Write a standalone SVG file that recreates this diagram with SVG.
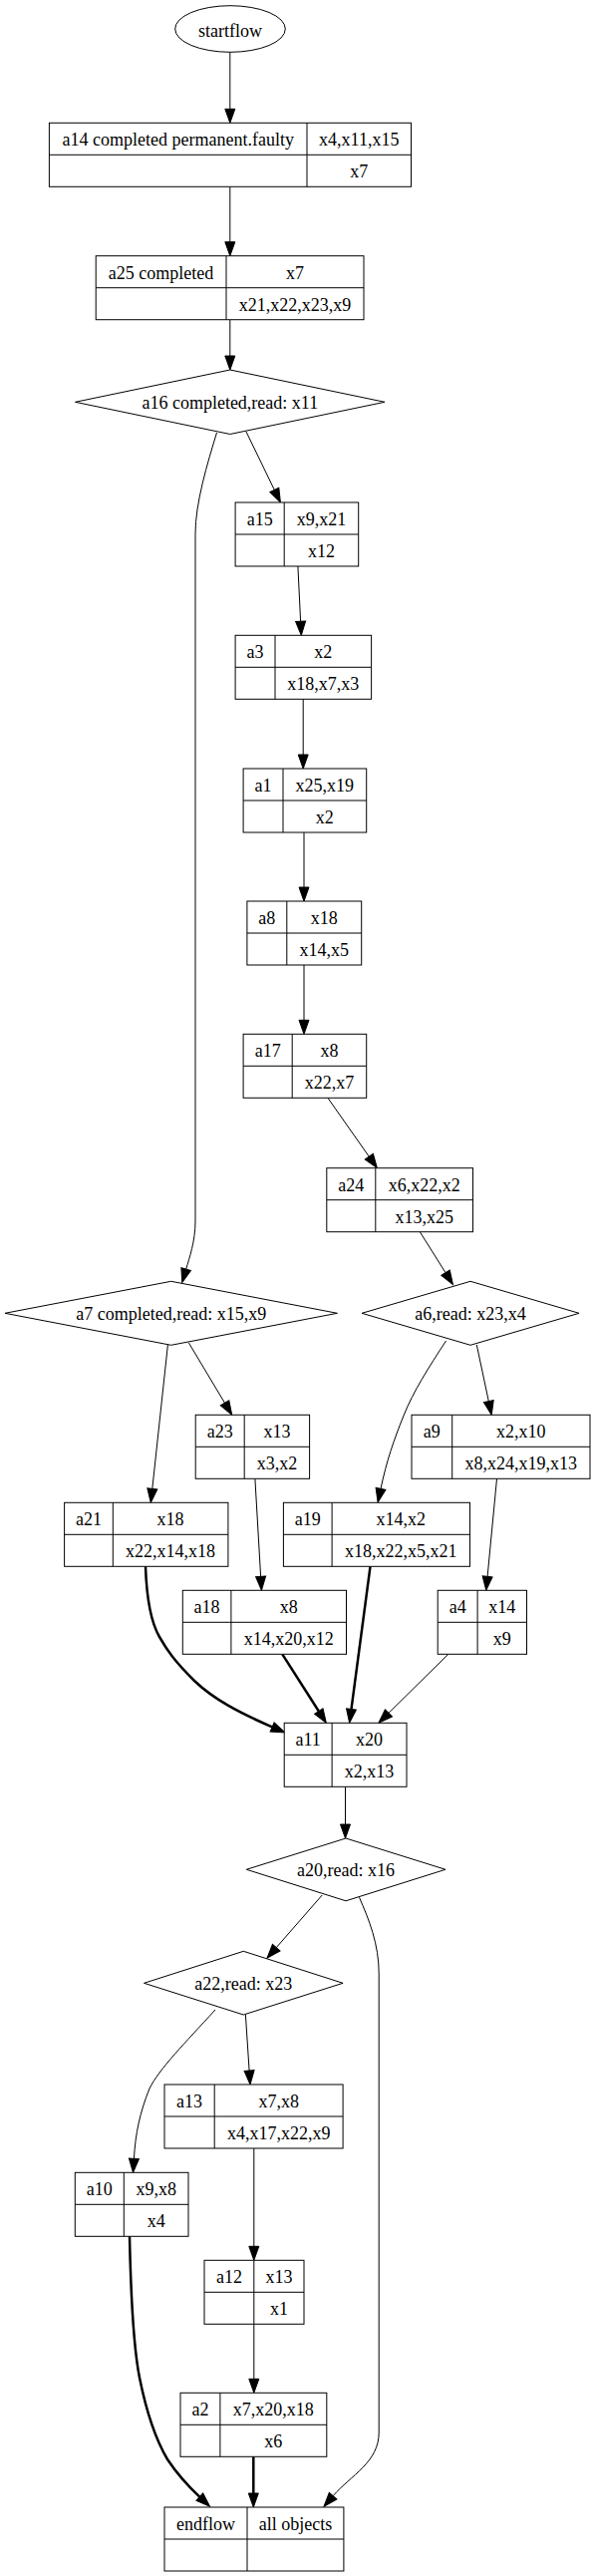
<svg xmlns="http://www.w3.org/2000/svg" width="597" height="2584" viewBox="0 0 597 2584">
<style>
.bx{fill:#fff;stroke:#000;stroke-width:1}
.ln{stroke:#000;stroke-width:1;fill:none}
.t{font-family:"Liberation Serif","Times New Roman",serif;font-size:18px;fill:#000;text-anchor:middle}
.e{fill:none;stroke:#000;stroke-width:1}
.eb{fill:none;stroke:#000;stroke-width:2.5}
</style>
<defs>
<marker id="ah" markerUnits="userSpaceOnUse" markerWidth="14" markerHeight="10" refX="0" refY="5" orient="auto" overflow="visible">
<path d="M0,0 L14,5 L0,10 z" fill="#000" stroke="#000" stroke-width="1"/>
</marker>
</defs>
<rect x="0" y="0" width="597" height="2584" fill="#fff"/>

<g id="edges">
<path class="e" marker-end="url(#ah)" d="M230.8,52.3 L230.8,109.3"/>
<path class="e" marker-end="url(#ah)" d="M230.8,187.3 L230.8,242.7"/>
<path class="e" marker-end="url(#ah)" d="M230.8,320.7 L230.8,357"/>
<path class="e" marker-end="url(#ah)" d="M247,433 L275.3,491.4"/>
<path class="e" marker-end="url(#ah)" d="M217.5,434 C208,465 196,505 196,535 L196,1225 C196,1245 190,1262 186.7,1273.1"/>
<path class="e" marker-end="url(#ah)" d="M298.9,568 L301.6,623.3"/>
<path class="e" marker-end="url(#ah)" d="M304.2,701.3 L304.2,757"/>
<path class="e" marker-end="url(#ah)" d="M305,835 L305,890"/>
<path class="e" marker-end="url(#ah)" d="M305,968 L305,1023.3"/>
<path class="e" marker-end="url(#ah)" d="M328.9,1101.3 L370.3,1160.2"/>
<path class="e" marker-end="url(#ah)" d="M421.3,1235.7 L447,1276.6"/>
<path class="e" marker-end="url(#ah)" d="M168.4,1349 L152.8,1493.4"/>
<path class="e" marker-end="url(#ah)" d="M189.4,1347 L225.5,1407.3"/>
<path class="e" marker-end="url(#ah)" d="M447.5,1345 C430,1372 415,1395 405,1420 C395,1445 388,1465 382,1493.4"/>
<path class="e" marker-end="url(#ah)" d="M478.3,1349 L490.3,1405.6"/>
<path class="e" marker-end="url(#ah)" d="M255.9,1483.3 L261.6,1581.3"/>
<path class="e" marker-end="url(#ah)" d="M498.5,1483.3 L489.1,1581.4"/>
<path class="eb" marker-end="url(#ah)" d="M146,1571.3 C147,1600 150,1625 160,1642 C168,1656 175,1666 195,1686 C215,1705 240,1718 273.1,1732.4"/>
<path class="eb" marker-end="url(#ah)" d="M283.3,1659.3 L319.8,1716.5"/>
<path class="eb" marker-end="url(#ah)" d="M371.5,1571.3 L352.5,1714.4"/>
<path class="e" marker-end="url(#ah)" d="M449.8,1659.3 L389.9,1718.4"/>
<path class="e" marker-end="url(#ah)" d="M346.5,1792.3 L346.5,1830"/>
<path class="e" marker-end="url(#ah)" d="M323.2,1901 L277.2,1953.7"/>
<path class="e" marker-end="url(#ah)" d="M360.5,1903.3 C370,1925 380.2,1950 380.2,1980 L380.2,2440 C380.2,2470 352,2483 334.1,2503.7"/>
<path class="e" marker-end="url(#ah)" d="M246.4,2021 L250.1,2077"/>
<path class="e" marker-end="url(#ah)" d="M216,2016 C185,2050 160,2075 150,2095 C140,2120 136,2140 134.4,2165.4"/>
<path class="e" marker-end="url(#ah)" d="M254.8,2155 L254.8,2253.3"/>
<path class="e" marker-end="url(#ah)" d="M254.8,2331.3 L254.8,2386.3"/>
<path class="eb" marker-end="url(#ah)" d="M254.3,2464.3 L254.3,2501"/>
<path class="eb" marker-end="url(#ah)" d="M130,2243.3 C131,2290 133,2350 140,2385 C147,2420 155,2445 168,2467 C180,2485 190,2495 200.3,2504.6"/>
</g>

<g id="startflow">
<ellipse class="bx" cx="231" cy="29" rx="55.3" ry="23.3"/>
<text class="t" x="231" y="36.5">startflow</text>
</g>

<g id="a14">
<rect class="bx" x="49.4" y="123.3" width="363.1" height="64"/>
<path class="ln" d="M308,123.3 V187.3 M49.4,155.3 H412.5"/>
<text class="t" x="178.7" y="146.3">a14 completed permanent.faulty</text>
<text class="t" x="360.25" y="146.3">x4,x11,x15</text>
<text class="t" x="360.25" y="178.3">x7</text>
</g>

<g id="a25">
<rect class="bx" x="96.2" y="256.7" width="268.8" height="64"/>
<path class="ln" d="M227,256.7 V320.7 M96.2,288.7 H365"/>
<text class="t" x="161.6" y="279.7">a25 completed</text>
<text class="t" x="296" y="279.7">x7</text>
<text class="t" x="296" y="311.7">x21,x22,x23,x9</text>
</g>

<g id="a16">
<polygon class="bx" points="230.8,371 386,403.3 230.8,435.5 75.5,403.3"/>
<text class="t" x="230.8" y="410.3">a16 completed,read: x11</text>
</g>

<g id="a15">
<rect class="bx" x="236.1" y="504" width="123.6" height="64"/>
<path class="ln" d="M285.2,504 V568 M236.1,536 H359.7"/>
<text class="t" x="260.65" y="527">a15</text>
<text class="t" x="322.45" y="527">x9,x21</text>
<text class="t" x="322.45" y="559">x12</text>
</g>

<g id="a3">
<rect class="bx" x="236.1" y="637.3" width="136.5" height="64"/>
<path class="ln" d="M276,637.3 V701.3 M236.1,669.3 H372.6"/>
<text class="t" x="256.05" y="660.3">a3</text>
<text class="t" x="324.3" y="660.3">x2</text>
<text class="t" x="324.3" y="692.3">x18,x7,x3</text>
</g>

<g id="a1">
<rect class="bx" x="244.1" y="771" width="123.6" height="64"/>
<path class="ln" d="M284,771 V835 M244.1,803 H367.7"/>
<text class="t" x="264.05" y="794">a1</text>
<text class="t" x="325.85" y="794">x25,x19</text>
<text class="t" x="325.85" y="826">x2</text>
</g>

<g id="a8">
<rect class="bx" x="247.9" y="904" width="114.8" height="64"/>
<path class="ln" d="M287.8,904 V968 M247.9,936 H362.7"/>
<text class="t" x="267.85" y="927">a8</text>
<text class="t" x="325.25" y="927">x18</text>
<text class="t" x="325.25" y="959">x14,x5</text>
</g>

<g id="a17">
<rect class="bx" x="244.1" y="1037.3" width="123.6" height="64"/>
<path class="ln" d="M293.2,1037.3 V1101.3 M244.1,1069.3 H367.7"/>
<text class="t" x="268.65" y="1060.3">a17</text>
<text class="t" x="330.45" y="1060.3">x8</text>
<text class="t" x="330.45" y="1092.3">x22,x7</text>
</g>

<g id="a24">
<rect class="bx" x="327.8" y="1171.7" width="146.7" height="64"/>
<path class="ln" d="M376.8,1171.7 V1235.7 M327.8,1203.7 H474.5"/>
<text class="t" x="352.3" y="1194.7">a24</text>
<text class="t" x="425.65" y="1194.7">x6,x22,x2</text>
<text class="t" x="425.65" y="1226.7">x13,x25</text>
</g>

<g id="a7">
<polygon class="bx" points="171.7,1285.3 338.4,1317.3 171.7,1349.3 5,1317.3"/>
<text class="t" x="171.7" y="1324.3">a7 completed,read: x15,x9</text>
</g>

<g id="a6">
<polygon class="bx" points="472,1285.3 581,1317.3 472,1349.3 363.1,1317.3"/>
<text class="t" x="472" y="1324.3">a6,read: x23,x4</text>
</g>

<g id="a23">
<rect class="bx" x="196.2" y="1419.3" width="114.4" height="64"/>
<path class="ln" d="M245.2,1419.3 V1483.3 M196.2,1451.3 H310.6"/>
<text class="t" x="220.7" y="1442.3">a23</text>
<text class="t" x="277.9" y="1442.3">x13</text>
<text class="t" x="277.9" y="1474.3">x3,x2</text>
</g>

<g id="a9">
<rect class="bx" x="413" y="1419.3" width="179" height="64"/>
<path class="ln" d="M453.7,1419.3 V1483.3 M413,1451.3 H592"/>
<text class="t" x="433.35" y="1442.3">a9</text>
<text class="t" x="522.85" y="1442.3">x2,x10</text>
<text class="t" x="522.85" y="1474.3">x8,x24,x19,x13</text>
</g>

<g id="a21">
<rect class="bx" x="64.6" y="1507.3" width="164.3" height="64"/>
<path class="ln" d="M113.3,1507.3 V1571.3 M64.6,1539.3 H228.9"/>
<text class="t" x="88.95" y="1530.3">a21</text>
<text class="t" x="171.1" y="1530.3">x18</text>
<text class="t" x="171.1" y="1562.3">x22,x14,x18</text>
</g>

<g id="a19">
<rect class="bx" x="284.4" y="1507.3" width="187.1" height="64"/>
<path class="ln" d="M333.1,1507.3 V1571.3 M284.4,1539.3 H471.5"/>
<text class="t" x="308.75" y="1530.3">a19</text>
<text class="t" x="402.3" y="1530.3">x14,x2</text>
<text class="t" x="402.3" y="1562.3">x18,x22,x5,x21</text>
</g>

<g id="a18">
<rect class="bx" x="183.3" y="1595.3" width="164.2" height="64"/>
<path class="ln" d="M231.9,1595.3 V1659.3 M183.3,1627.3 H347.5"/>
<text class="t" x="207.6" y="1618.3">a18</text>
<text class="t" x="289.7" y="1618.3">x8</text>
<text class="t" x="289.7" y="1650.3">x14,x20,x12</text>
</g>

<g id="a4">
<rect class="bx" x="439.2" y="1595.3" width="89.3" height="64"/>
<path class="ln" d="M479.1,1595.3 V1659.3 M439.2,1627.3 H528.5"/>
<text class="t" x="459.15" y="1618.3">a4</text>
<text class="t" x="503.8" y="1618.3">x14</text>
<text class="t" x="503.8" y="1650.3">x9</text>
</g>

<g id="a11">
<rect class="bx" x="285.2" y="1728.3" width="122.8" height="64"/>
<path class="ln" d="M333.1,1728.3 V1792.3 M285.2,1760.3 H408"/>
<text class="t" x="309.15" y="1751.3">a11</text>
<text class="t" x="370.55" y="1751.3">x20</text>
<text class="t" x="370.55" y="1783.3">x2,x13</text>
</g>

<g id="a20">
<polygon class="bx" points="347,1844 447,1875.3 347,1906.8 247.3,1875.3"/>
<text class="t" x="347" y="1882.3">a20,read: x16</text>
</g>

<g id="a22">
<polygon class="bx" points="244.3,1957.3 344.1,1989.3 244.3,2021 144.5,1989.3"/>
<text class="t" x="244.3" y="1996.3">a22,read: x23</text>
</g>

<g id="a13">
<rect class="bx" x="165" y="2091" width="179.1" height="64"/>
<path class="ln" d="M215.2,2091 V2155 M165,2123 H344.1"/>
<text class="t" x="190.1" y="2114">a13</text>
<text class="t" x="279.65" y="2114">x7,x8</text>
<text class="t" x="279.65" y="2146">x4,x17,x22,x9</text>
</g>

<g id="a10">
<rect class="bx" x="75.3" y="2179.3" width="113.7" height="64"/>
<path class="ln" d="M124.3,2179.3 V2243.3 M75.3,2211.3 H189"/>
<text class="t" x="99.8" y="2202.3">a10</text>
<text class="t" x="156.65" y="2202.3">x9,x8</text>
<text class="t" x="156.65" y="2234.3">x4</text>
</g>

<g id="a12">
<rect class="bx" x="205" y="2267.3" width="100" height="64"/>
<path class="ln" d="M254.8,2267.3 V2331.3 M205,2299.3 H305"/>
<text class="t" x="229.9" y="2290.3">a12</text>
<text class="t" x="279.9" y="2290.3">x13</text>
<text class="t" x="279.9" y="2322.3">x1</text>
</g>

<g id="a2">
<rect class="bx" x="181" y="2400.3" width="146.8" height="64"/>
<path class="ln" d="M220.9,2400.3 V2464.3 M181,2432.3 H327.8"/>
<text class="t" x="200.95" y="2423.3">a2</text>
<text class="t" x="274.35" y="2423.3">x7,x20,x18</text>
<text class="t" x="274.35" y="2455.3">x6</text>
</g>

<g id="endflow">
<rect class="bx" x="165" y="2515" width="179.9" height="64"/>
<path class="ln" d="M248,2515 V2579 M165,2547 H344.9"/>
<text class="t" x="206.5" y="2538">endflow</text>
<text class="t" x="296.45" y="2538">all objects</text>
</g>
</svg>
